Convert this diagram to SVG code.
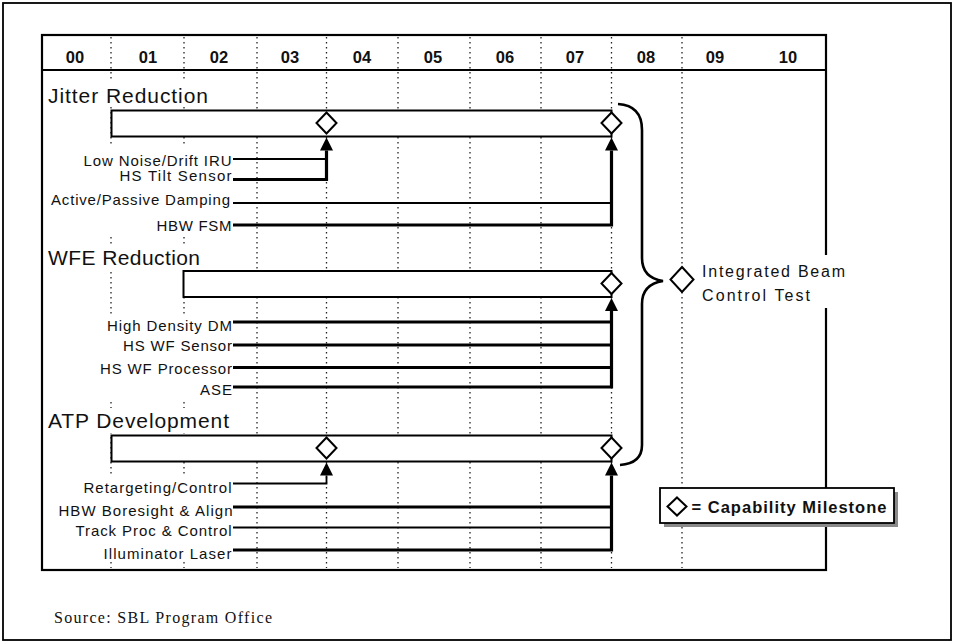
<svg xmlns="http://www.w3.org/2000/svg" width="953" height="644" viewBox="0 0 953 644">
<style>
text{font-family:"Liberation Sans",Arial,Helvetica,sans-serif;fill:#111}
.hdr{font-size:16.5px;font-weight:bold;text-anchor:middle}
.ttl{font-size:21px}
.lbl{font-size:15px;text-anchor:end}
.src{font-family:"Liberation Serif","Times New Roman",serif;font-size:16px}
.grid{stroke:#222;stroke-width:1.3;stroke-dasharray:1.6 3.4;fill:none}
.bar{fill:#fff;stroke:#000;stroke-width:2}
.dia{fill:#fff;stroke:#000;stroke-width:2}
.thick{fill:none;stroke:#000;stroke-width:3.2}
.thin{fill:none;stroke:#000;stroke-width:1.8}
.mask{fill:#fff}
</style>
<defs>
<marker id="arrow" viewBox="0 0 10 10" refX="0" refY="5" markerWidth="13" markerHeight="13" markerUnits="userSpaceOnUse" orient="auto">
<path d="M0,0 L10,5 L0,10 z" fill="#000"/>
</marker>
<polygon id="diamond" points="0,-10.5 10,0 0,10.5 -10,0"/>
</defs>
<rect width="953" height="644" fill="#fff"/>
<rect x="3" y="3" width="948" height="637" fill="none" stroke="#000" stroke-width="1.8"/>

<g id="chart-frame">
<rect x="42" y="35" width="784" height="535" fill="none" stroke="#000" stroke-width="2.2"/>
<line x1="42" y1="70" x2="826" y2="70" stroke="#000" stroke-width="2.2"/>
</g>

<g id="grid">
<line class="grid" x1="111" y1="37" x2="111" y2="568"/>
<line class="grid" x1="184" y1="37" x2="184" y2="568"/>
<line class="grid" x1="257" y1="37" x2="257" y2="568"/>
<line class="grid" x1="326.5" y1="37" x2="326.5" y2="568"/>
<line class="grid" x1="398" y1="37" x2="398" y2="568"/>
<line class="grid" x1="470" y1="37" x2="470" y2="568"/>
<line class="grid" x1="541" y1="37" x2="541" y2="568"/>
<line class="grid" x1="611.5" y1="37" x2="611.5" y2="568"/>
<line class="grid" x1="682" y1="37" x2="682" y2="568"/>
</g>

<g id="header">
<text class="hdr" x="75" y="62.5">00</text>
<text class="hdr" x="148" y="62.5">01</text>
<text class="hdr" x="219" y="62.5">02</text>
<text class="hdr" x="290" y="62.5">03</text>
<text class="hdr" x="362" y="62.5">04</text>
<text class="hdr" x="433" y="62.5">05</text>
<text class="hdr" x="505" y="62.5">06</text>
<text class="hdr" x="575" y="62.5">07</text>
<text class="hdr" x="646" y="62.5">08</text>
<text class="hdr" x="715" y="62.5">09</text>
<text class="hdr" x="788" y="62.5">10</text>
</g>

<g id="masks">
<rect class="mask" x="44" y="79" width="168" height="27"/>
<rect class="mask" x="44" y="146" width="191" height="88"/>
<rect class="mask" x="44" y="246" width="160" height="24"/>
<rect class="mask" x="44" y="314" width="191" height="85"/>
<rect class="mask" x="44" y="408" width="190" height="25"/>
<rect class="mask" x="44" y="476" width="191" height="86"/>
</g>

<g id="jitter">
<text class="ttl" x="48" y="102.5" textLength="160">Jitter Reduction</text>
<rect class="bar" x="111.5" y="110.5" width="500" height="26"/>
<use href="#diamond" class="dia" x="326.5" y="123"/>
<use href="#diamond" class="dia" x="611.5" y="123"/>
</g>

<g id="jitter-labels">
<text class="lbl" x="231.5" y="165.5" textLength="148">Low Noise/Drift IRU</text>
<text class="lbl" x="231.5" y="181" textLength="112">HS Tilt Sensor</text>
<text class="lbl" x="230" y="205" textLength="179">Active/Passive Damping</text>
<text class="lbl" x="231.5" y="230.5" textLength="75">HBW FSM</text>
</g>

<g id="wfe">
<text class="ttl" x="48" y="265" textLength="152">WFE Reduction</text>
<rect class="bar" x="183.5" y="271" width="428" height="26"/>
<use href="#diamond" class="dia" x="611.5" y="283.5"/>
</g>

<g id="wfe-labels">
<text class="lbl" x="232" y="331" textLength="125">High Density DM</text>
<text class="lbl" x="232" y="351" textLength="109">HS WF Sensor</text>
<text class="lbl" x="232" y="373.5" textLength="132">HS WF Processor</text>
<text class="lbl" x="232" y="395" textLength="32">ASE</text>
</g>

<g id="atp">
<text class="ttl" x="48" y="427.5" textLength="181">ATP Development</text>
<rect class="bar" x="111.5" y="435.5" width="500" height="26"/>
<use href="#diamond" class="dia" x="326.5" y="448"/>
<use href="#diamond" class="dia" x="611.5" y="448"/>
</g>

<g id="atp-labels">
<text class="lbl" x="231.5" y="492.5" textLength="148">Retargeting/Control</text>
<text class="lbl" x="232.5" y="516" textLength="174">HBW Boresight &amp; Align</text>
<text class="lbl" x="231.5" y="536" textLength="156">Track Proc &amp; Control</text>
<text class="lbl" x="231.5" y="558.5" textLength="128">Illuminator Laser</text>
</g>

<g id="connectors">
<path class="thin" d="M233,159 H326.5"/>
<path class="thick" d="M233,179.5 H326.5 V150.5" marker-end="url(#arrow)"/>
<path class="thin" d="M233,203 H611.5"/>
<path class="thick" d="M233,225 H611.5 V150.5" marker-end="url(#arrow)"/>

<path class="thick" d="M233,322 H611.5"/>
<path class="thick" d="M233,345 H611.5"/>
<path class="thick" d="M233,367.5 H611.5"/>
<path class="thick" d="M233,387 H611.5 V311" marker-end="url(#arrow)"/>

<path class="thin" d="M233,483.5 H326.5 V475.5" marker-end="url(#arrow)"/>
<path class="thick" d="M233,507 H611.5"/>
<path class="thin" d="M233,527.5 H611.5"/>
<path class="thick" d="M233,550 H611.5 V475.5" marker-end="url(#arrow)"/>

<path id="brace" d="M618,104 C634,105 642,113 642,130 L642,258 C642,272 650,279 663,281 C650,283 642,290 642,304 L642,445 C642,458 634,464 620,465" fill="none" stroke="#000" stroke-width="2.6"/>
</g>

<g id="integrated-test">
<rect class="mask" x="695" y="255" width="140" height="53"/>
<polygon class="dia" points="682,267 693.5,279.5 682,292 670.5,279.5"/>
<text x="702" y="277" font-size="16" textLength="143">Integrated Beam</text>
<text x="702" y="300.5" font-size="16" textLength="108">Control Test</text>
</g>

<g id="legend">
<rect x="664" y="492" width="234" height="35" fill="#8a8a8a"/>
<rect x="660" y="488" width="234" height="35" fill="#fff" stroke="#000" stroke-width="1.8"/>
<polygon points="677,497.5 686.5,506.5 677,515.5 667.5,506.5" class="dia"/>
<text x="691.5" y="512.5" font-size="16.5" font-weight="bold" textLength="195">= Capability Milestone</text>
</g>

<text class="src" x="54" y="623" textLength="218">Source:  SBL Program Office</text>
</svg>
